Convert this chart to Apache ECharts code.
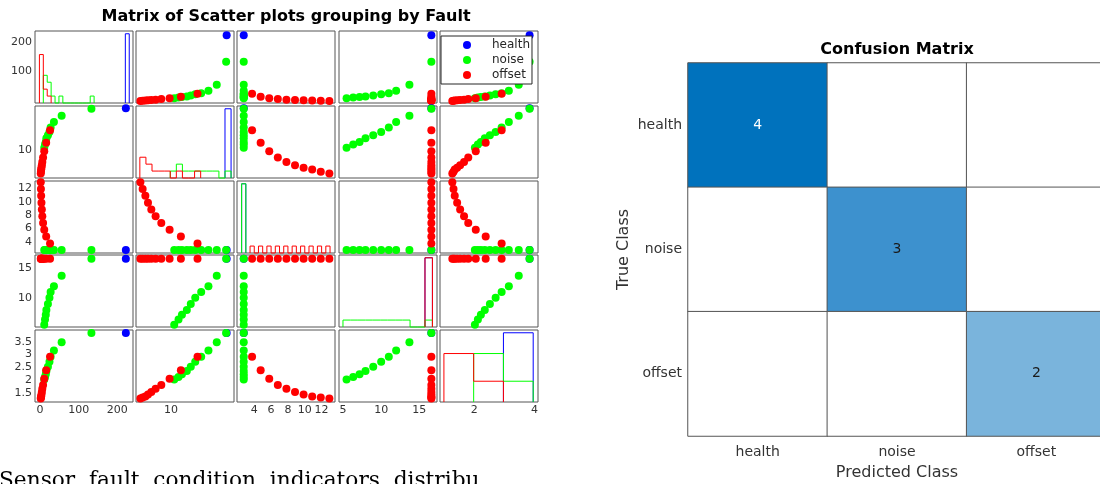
<!DOCTYPE html>
<html>
<head>
<meta charset="utf-8">
<script src="https://cdn.jsdelivr.net/npm/echarts@6/dist/echarts.min.js"></script>
<style>
  html, body { margin: 0; padding: 0; background: #fff; }
  #chart { width: 1100px; height: 484px; }
</style>
</head>
<body>
<div id="chart"></div>
<script>
const groupNames = ['health', 'noise', 'offset'];
const groupColors = ['#0000ff', '#00ff00', '#ff0000'];

// condition indicators, one array per group (1 health run, 10 noise runs, 10 offset runs)
const ind1Health = [222];
const ind1Noise = [11, 13, 15, 16.5, 20.5, 24.5, 27.5, 36, 56, 133];
const ind1Offset = [26, 16, 11, 8, 6, 4.8, 3.8, 3, 2.4, 2];

const ind2Health = [16.36];
const ind2Noise = [10.37, 10.86, 11.25, 11.81, 12.26, 12.77, 13.45, 14.28, 15.23, 16.3];
const ind2Offset = [13.03, 11.13, 9.84, 8.89, 8.24, 7.75, 7.37, 7.07, 6.76, 6.5];

const ind3Health = [2.75];
const ind3Noise = [2.75, 2.75, 2.75, 2.75, 2.75, 2.75, 2.75, 2.75, 2.75, 2.75];
const ind3Offset = [3.74, 4.76, 5.78, 6.8, 7.82, 8.84, 9.86, 10.88, 11.9, 12.92];

const ind4Health = [16.57];
const ind4Noise = [5.47, 6.34, 7.17, 7.95, 8.96, 10.0, 11.0, 11.96, 13.7, 16.57];
const ind4Offset = [16.57, 16.57, 16.57, 16.57, 16.57, 16.57, 16.57, 16.57, 16.57, 16.57];

const ind5Health = [3.84];
const ind5Noise = [2.02, 2.12, 2.22, 2.35, 2.52, 2.71, 2.91, 3.15, 3.48, 3.84];
const ind5Offset = [2.91, 2.38, 2.05, 1.8, 1.66, 1.53, 1.43, 1.35, 1.31, 1.27];

// histogram bins for the diagonal
const binStart = [-1.5, 6.44, 2.5, 5.0, 0.99];
const binWidth = [10.1, 0.695, 0.5, 0.976, 0.99];
const binCount = [23, 15, 21, 12, 3];

// tick labels
const xTickValues = [[0, 100, 200], [10], [4, 6, 8, 10, 12], [5, 10, 15], [2, 4]];
const yTickValues = [[100, 200], [10], [4, 6, 8, 10, 12], [10, 15], [1.5, 2, 2.5, 3, 3.5]];

// confusion matrix (rows = true class, cols = predicted class)
const classNames = ['health', 'noise', 'offset'];
const confusionCounts = [[4, 0, 0], [0, 3, 0], [0, 0, 2]];

const indicators = [
  [ind1Health, ind1Noise, ind1Offset],
  [ind2Health, ind2Noise, ind2Offset],
  [ind3Health, ind3Noise, ind3Offset],
  [ind4Health, ind4Noise, ind4Offset],
  [ind5Health, ind5Noise, ind5Offset]
];

// layout of the 5x5 matrix
const colLeft = [35, 136, 237, 339, 440];
const rowTop = [31, 106, 181, 255, 330];
const cellW = 98, cellH = 72;
const xLimits = [[-12.9, 240.5], [6, 17.2], [1.95, 13.59], [4.48, 17.31], [0.86, 4.12]];
const yLimits = [[-5, 236], [5.8, 16.71], [2.3, 13.11], [5.1, 17.2], [1.136, 3.957]];

const sans = 'DejaVu Sans';
const tickFont = { fontFamily: sans, fontSize: 11, color: '#333' };
const hidden = { axisLine: { show: false }, axisTick: { show: false }, splitLine: { show: false } };

function histOutline(values, v) {
  const counts = new Array(binCount[v]).fill(0);
  values.forEach(x => {
    const b = Math.min(binCount[v] - 1, Math.max(0, Math.floor((x - binStart[v]) / binWidth[v])));
    counts[b]++;
  });
  const used = counts.map((c, b) => (c > 0 ? b : -1)).filter(b => b >= 0);
  const first = used[0], last = used[used.length - 1];
  const edge = b => binStart[v] + b * binWidth[v];
  const pts = [[edge(first), 0]];
  for (let b = first; b <= last; b++) {
    const h = counts[b] / values.length;
    pts.push([edge(b), h], [edge(b + 1), h]);
  }
  pts.push([edge(last + 1), 0]);
  return pts;
}

const grids = [], xAxes = [], yAxes = [], series = [];

for (let i = 0; i < 5; i++) {
  for (let j = 0; j < 5; j++) {
    const g = grids.length;
    grids.push({
      left: colLeft[j], top: rowTop[i], width: cellW, height: cellH, outerBoundsMode: 'none',
      show: true, borderColor: '#555', borderWidth: 1, backgroundColor: '#fff'
    });
    xAxes.push({
      type: 'value', gridIndex: g, min: xLimits[j][0], max: xLimits[j][1], ...hidden,
      axisLabel: i === 4 ? { ...tickFont, margin: 3, customValues: xTickValues[j] } : { show: false }
    });

    if (i === j) {
      const hy = yAxes.length;
      yAxes.push({ type: 'value', gridIndex: g, min: 0, max: 1.04, position: 'right', show: false });
      if (j === 0) {
        yAxes.push({
          type: 'value', gridIndex: g, position: 'left', min: yLimits[i][0], max: yLimits[i][1], ...hidden,
          axisLabel: { ...tickFont, margin: 3, customValues: yTickValues[i] }
        });
      }
      for (let k = 0; k < 3; k++) {
        series.push({
          type: 'line', name: groupNames[k] + ' hist', xAxisIndex: g, yAxisIndex: hy,
          data: histOutline(indicators[i][k], i), symbol: 'none', clip: false, silent: true,
          lineStyle: { color: groupColors[k], width: 1 }, itemStyle: { color: groupColors[k] }
        });
      }
    } else {
      const yi = yAxes.length;
      yAxes.push({
        type: 'value', gridIndex: g, min: yLimits[i][0], max: yLimits[i][1], ...hidden,
        axisLabel: j === 0 ? { ...tickFont, margin: 3, customValues: yTickValues[i] } : { show: false }
      });
      for (let k = 0; k < 3; k++) {
        series.push({
          type: 'scatter', name: groupNames[k], xAxisIndex: g, yAxisIndex: yi,
          symbolSize: 8, clip: false, silent: true,
          itemStyle: { color: groupColors[k], opacity: 1 },
          data: indicators[j][k].map((x, n) => [x, indicators[i][k][n]])
        });
      }
    }
  }
}

// confusion matrix
const cmGrid = grids.length;
grids.push({ left: 688, top: 63, width: 418, height: 373, outerBoundsMode: 'none', show: false });
const cmX = xAxes.length;
xAxes.push({
  type: 'category', gridIndex: cmGrid, data: classNames, position: 'bottom', ...hidden,
  axisLabel: { fontFamily: sans, fontSize: 14, color: '#333', margin: 9 },
  name: 'Predicted Class', nameLocation: 'middle', nameGap: 29,
  nameTextStyle: { fontFamily: sans, fontSize: 16, color: '#333' }
});
const cmY = yAxes.length;
yAxes.push({
  type: 'category', gridIndex: cmGrid, data: classNames, inverse: true, ...hidden,
  axisLabel: { fontFamily: sans, fontSize: 14, color: '#333', margin: 6 },
  name: 'True Class', nameLocation: 'middle', nameGap: 56, nameRotate: 90,
  nameTextStyle: { fontFamily: sans, fontSize: 16, color: '#333' }
});
const cmData = [];
confusionCounts.forEach((row, t) => row.forEach((v, p) => {
  cmData.push({ value: [p, t, v], label: { color: v >= 4 ? '#ffffff' : '#1a1a1a' } });
}));
const heatIdx = series.length;
series.push({
  type: 'heatmap', xAxisIndex: cmX, yAxisIndex: cmY, data: cmData, silent: true,
  itemStyle: { borderColor: '#555', borderWidth: 1 },
  label: { show: true, fontFamily: sans, fontSize: 14, formatter: p => (p.value[2] ? p.value[2] : '') }
});

const chart = echarts.init(document.getElementById('chart'));
chart.setOption({
  animation: false,
  backgroundColor: '#fff',
  title: [
    {
      text: 'Matrix of Scatter plots grouping by Fault', left: 286, top: 9, textAlign: 'center', padding: 0,
      textStyle: { fontFamily: sans, fontSize: 16, fontWeight: 'bold', color: '#000' }
    },
    {
      text: 'Confusion Matrix', left: 897, top: 42, textAlign: 'center', padding: 0,
      textStyle: { fontFamily: sans, fontSize: 16, fontWeight: 'bold', color: '#000' }
    }
  ],
  legend: {
    data: groupNames,
    icon: 'circle',
    orient: 'vertical', left: 441, top: 36, itemWidth: 40, itemHeight: 8, itemGap: 3,
    padding: [3, 2, 3, 22], backgroundColor: '#fff', borderColor: '#262626', borderWidth: 1,
    selectedMode: false,
    textStyle: { fontFamily: sans, fontSize: 12, color: '#262626' }
  },
  visualMap: {
    type: 'piecewise', show: false, seriesIndex: heatIdx, dimension: 2,
    pieces: [
      { value: 0, color: '#ffffff' },
      { value: 2, color: '#7ab4dc' },
      { value: 3, color: '#3d91ce' },
      { value: 4, color: '#0072bd' }
    ]
  },
  graphic: [{
    type: 'text', x: -1, y: 470,
    style: { text: 'Sensor  fault  condition  indicators  distribu', font: '21.7px "DejaVu Serif"', fill: '#000', verticalAlign: 'top' }
  }],
  grid: grids,
  xAxis: xAxes,
  yAxis: yAxes,
  series: series
});
</script>
</body>
</html>
